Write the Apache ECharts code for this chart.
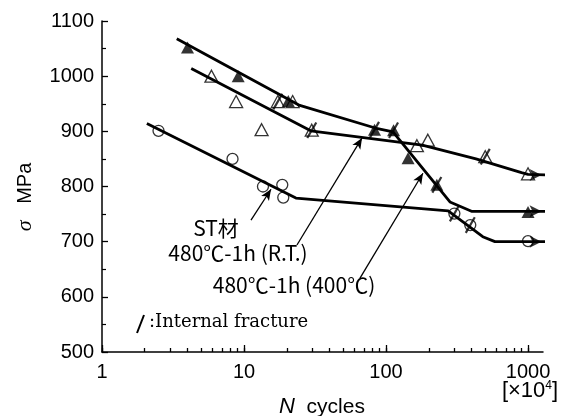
<!DOCTYPE html>
<html><head><meta charset="utf-8">
<script src="https://cdn.jsdelivr.net/npm/echarts@6/dist/echarts.min.js"></script>
<style>html,body{margin:0;padding:0;background:#fff}#c{width:565px;height:416px}</style>
</head><body><div id="c"></div>
<script>
// ---- tick values ----
const xTicks = [1, 10, 100, 1000];
const xMinorTicks = [2,3,4,5,6,7,8,9,20,30,40,50,60,70,80,90,200,300,400,500,600,700,800,900];
const yTicks = [500, 600, 700, 800, 900, 1000, 1100];

// ---- ST材 (open circles) ----
const stPoints = [[2.5,901],[8.3,850],[13.6,800],[18.6,803],[18.9,780],[303,751],[392,730],[1000,701]];
const stCurve  = [[2.07,914],[23.2,779],[274,756],[480,709],[585,700],[1350,700]];

// ---- 480℃-1h (R.T.) (open triangles) ----
const rtPoints = [[5.9,1000],[8.8,954],[13.3,903],[17.3,954],[22,954],[30,902],[165,874],[197,884],[500,854],[1000,823]];
const rtCurve  = [[4.25,1014],[29.5,901],[180,875],[430,850],[900,825],[1000,822],[1350,821]];

// ---- 480℃-1h (400℃) (filled triangles) ----
const htPoints = [[4,1052],[9.1,1000],[20.5,955],[83,903],[113,902],[143,851],[228,803],[1000,754]];
const htCurve  = [[3.36,1068],[24.7,947],[84,906],[112,899],[282,772],[400,755],[1350,755]];

// ---- internal fracture marks ----
const fracture = [[83,903],[113,902],[228,803],[17.3,954],[30,902],[500,854],[303,751],[392,730]];

// ---- run-out arrow heads ----
const runoutHeads = [[1245,700],[1245,821],[1245,755]];

// ---- label pointer lines (from label to curve) ----
const stPointer = [[11.2,739],[15.5,795]];
const rtPointer = [[23.6,694],[67.8,888]];
const htPointer = [[65.6,634],[182,824]];

const chart = echarts.init(document.getElementById('c'), null, {renderer: 'canvas'});
const black = '#000';
const tickFont = 'Liberation Sans';
const plain = v => String(v);

const option = {
  backgroundColor: '#fff',
  animation: false,
  grid: {left: 102, top: 21, right: 22, bottom: 64},
  xAxis: [
    {
      type: 'log', logBase: 10, min: 1, max: 1275,
      axisLine: {show: true, lineStyle: {color: black, width: 1.5}},
      axisTick: {show: true, inside: true, length: 4, customValues: xMinorTicks.concat(xTicks), lineStyle: {color: black, width: 1.3}},
      axisLabel: {customValues: xTicks, formatter: plain, color: black, fontSize: 20, fontFamily: tickFont, margin: 10},
      splitLine: {show: false}
    },
    {
      type: 'log', logBase: 10, min: 1, max: 1275, position: 'bottom',
      axisLine: {show: false},
      axisTick: {show: true, inside: true, length: 7, customValues: xTicks, lineStyle: {color: black, width: 1.3}},
      axisLabel: {show: false},
      splitLine: {show: false}
    }
  ],
  yAxis: {
    type: 'value', min: 500, max: 1100, interval: 100,
    axisLine: {show: true, lineStyle: {color: black, width: 1.5}},
    axisTick: {show: true, inside: true, length: 6, lineStyle: {color: black, width: 1.3}},
    minorTick: {show: true, splitNumber: 2, length: 4, lineStyle: {color: black, width: 1.2}},
    axisLabel: {color: black, fontSize: 20, fontFamily: tickFont, margin: 8, formatter: plain},
    splitLine: {show: false}
  },
  series: [
    {type: 'line', data: stCurve, symbol: 'none', clip: false, lineStyle: {color: black, width: 2.8}, z: 2,
      markLine: {silent: true, symbol: ['none', 'arrow'], symbolSize: [7, 11], label: {show: false},
        lineStyle: {color: black, width: 1.3, type: 'solid'},
        data: [
          [{coord: stPointer[0]}, {coord: stPointer[1]}],
          [{coord: rtPointer[0]}, {coord: rtPointer[1]}],
          [{coord: htPointer[0]}, {coord: htPointer[1]}]
        ]}},
    {type: 'line', data: rtCurve, symbol: 'none', clip: false, lineStyle: {color: black, width: 2.8}, z: 2},
    {type: 'line', data: htCurve, symbol: 'none', clip: false, lineStyle: {color: black, width: 2.8}, z: 2},
    {type: 'scatter', data: stPoints, symbol: 'circle', symbolSize: 11, clip: false,
      itemStyle: {color: 'rgba(0,0,0,0)', borderColor: black, borderWidth: 1.3}, z: 3},
    {type: 'scatter', data: rtPoints, symbol: 'triangle', symbolSize: [13, 12], clip: false,
      itemStyle: {color: 'rgba(0,0,0,0)', borderColor: black, borderWidth: 1.3}, z: 3},
    {type: 'scatter', data: htPoints, symbol: 'triangle', symbolSize: [13, 12], clip: false,
      itemStyle: {color: black}, z: 3},
    {type: 'scatter', data: fracture, symbol: 'rect', symbolSize: [2.2, 18], symbolRotate: -30, clip: false,
      itemStyle: {color: black}, z: 4},
    {type: 'scatter', data: runoutHeads, symbol: 'arrow', symbolSize: [9, 12], symbolRotate: -90, clip: false,
      itemStyle: {color: black}, z: 4}
  ],
  graphic: [
    {type: 'text', x: 216, y: 228, style: {text: 'ST材', fontSize: 21, fontFamily: 'Noto Sans CJK JP', fill: black, align: 'center', verticalAlign: 'middle'}},
    {type: 'text', x: 238, y: 253, style: {text: '480℃-1h (R.T.)', fontSize: 21, fontFamily: 'Noto Sans CJK JP', fill: black, align: 'center', verticalAlign: 'middle'}},
    {type: 'text', x: 294, y: 285, style: {text: '480℃-1h (400℃)', fontSize: 21, fontFamily: 'Noto Sans CJK JP', fill: black, align: 'center', verticalAlign: 'middle'}},
    {type: 'line', shape: {x1: 137, y1: 333, x2: 144, y2: 315}, style: {stroke: black, lineWidth: 2}},
    {type: 'text', x: 149, y: 322, style: {text: ':Internal fracture', fontSize: 18, fontFamily: 'DejaVu Serif', fill: black, align: 'left', verticalAlign: 'middle'}},
    {type: 'text', x: 25, y: 197, rotation: Math.PI / 2,
      style: {text: '{s|σ}{a|   MPa}', fill: black, align: 'center', verticalAlign: 'middle',
        rich: {s: {fontSize: 22, fontFamily: 'Liberation Serif', fontStyle: 'italic', fill: black},
               a: {fontSize: 20, fontFamily: tickFont, fill: black}}}},
    {type: 'text', x: 322, y: 407,
      style: {text: '{n|N}{a|  cycles}', fill: black, align: 'center', verticalAlign: 'middle',
        rich: {n: {fontSize: 22, fontFamily: tickFont, fontStyle: 'italic', fill: black},
               a: {fontSize: 21, fontFamily: tickFont, fill: black}}}},
    {type: 'text', x: 530, y: 391,
      style: {text: '{a|[×10}{p|4}{a|]}', fill: black, align: 'center', verticalAlign: 'middle',
        rich: {a: {fontSize: 22, fontFamily: tickFont, fill: black, verticalAlign: 'bottom'},
               p: {fontSize: 12, fontFamily: tickFont, fill: black, verticalAlign: 'top', padding: [0, 0, 10, 0]}}}}
  ]
};
chart.setOption(option);
</script>
</body></html>
